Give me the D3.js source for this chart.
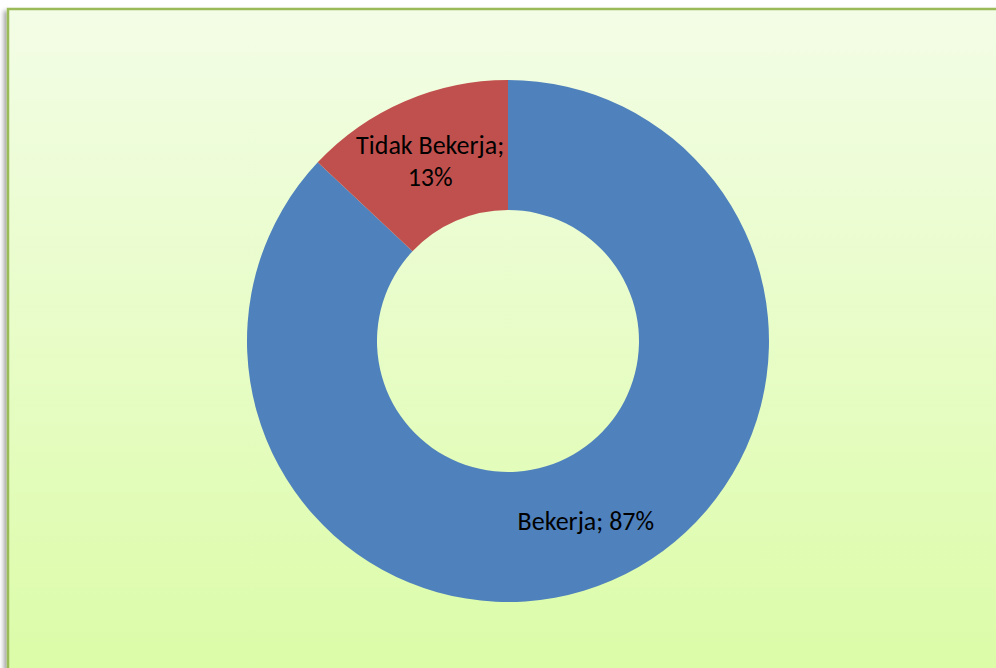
<!DOCTYPE html>
<html><head><meta charset="utf-8">
<script src="https://cdn.jsdelivr.net/npm/d3@7"></script>
<style>html,body{margin:0;padding:0;overflow:hidden;background:#fff}</style>
</head><body>
<svg id="c" width="996" height="668"></svg>
<script>
const categories = ["Bekerja", "Tidak Bekerja"];
const values = [87, 13];
const colors = ["#4f81bd", "#c0504d"];
const labelLines = [["Bekerja; 87%"], ["Tidak Bekerja;", "13%"]];

const svg = d3.select("#c");
const defs = svg.append("defs");
const g = defs.append("linearGradient").attr("id","bg").attr("x1",0).attr("y1",0).attr("x2",0).attr("y2",1);
g.append("stop").attr("offset","0%").attr("stop-color","#f3fde6");
g.append("stop").attr("offset","100%").attr("stop-color","#dbfca6");
const f = defs.append("filter").attr("id","sh").attr("x","-5%").attr("y","-5%").attr("width","110%").attr("height","110%");
f.append("feDropShadow").attr("dx",-3).attr("dy",3).attr("stdDeviation",2).attr("flood-color","#000").attr("flood-opacity",0.35);

svg.append("rect").attr("x",8).attr("y",9).attr("width",1000).attr("height",680)
  .attr("fill","url(#bg)").attr("stroke","#9bbb59").attr("stroke-width",2.5).attr("filter","url(#sh)");

const cx = 508, cy = 341, R = 261, r = 131;
const pie = d3.pie().sort(null).value(d => d.v);
const arcs = pie(categories.map((c,i)=>({c, v: values[i], i})));
const arc = d3.arc().innerRadius(r).outerRadius(R);
const gg = svg.append("g").attr("transform",`translate(${cx},${cy})`);
gg.selectAll("path").data(arcs).enter().append("path")
  .attr("d", arc).attr("fill", d => colors[d.data.i]);

const labelArc = d3.arc().innerRadius(r).outerRadius(R);
const offsets = [[0, 0], [0, 0]];
arcs.forEach((d,k) => {
  const [x,y] = labelArc.centroid(d);
  const lines = labelLines[k];
  const t = gg.append("text").attr("text-anchor","middle")
    .attr("font-family","Carlito, Calibri, Lato, 'Open Sans', sans-serif").attr("font-size",26).attr("fill","#000");
  const lh = 32;
  const x0 = x + offsets[k][0], y0 = y + offsets[k][1] - (lines.length-1)*lh/2;
  lines.forEach((ln,j) => t.append("tspan").attr("x", x0).attr("y", y0 + j*lh).attr("dy","0.35em").text(ln));
});
</script>
</body></html>
